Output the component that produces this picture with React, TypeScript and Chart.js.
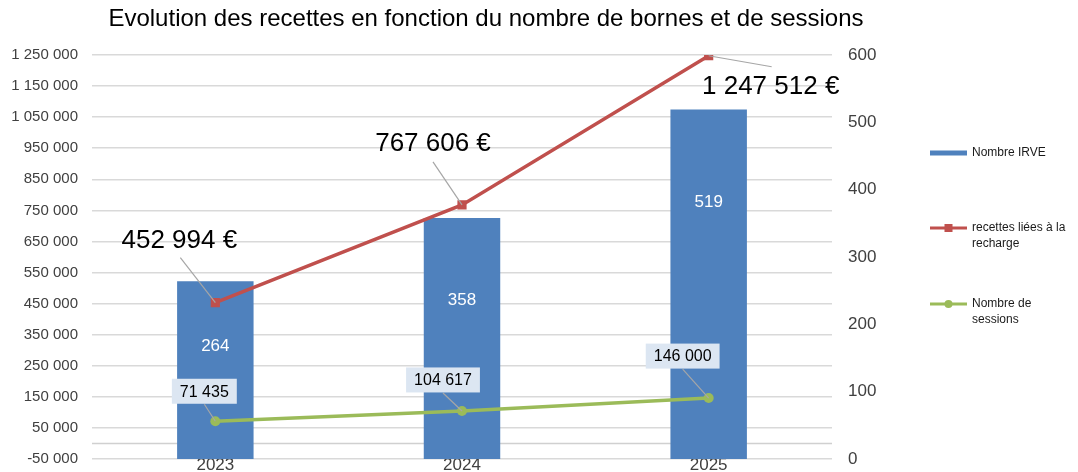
import React, { useEffect, useRef } from 'react';
import { Chart, registerables } from 'chart.js';

Chart.register(...registerables);

// ---- Data ----
const categories = ['2023', '2024', '2025'];
const nombreIRVE = [264, 358, 519];
const recettes = [452994, 767606, 1247512];
const sessions = [71435, 104617, 146000];

const leftMin = -50000;
const leftMax = 1250000;
const leftStep = 100000;
const rightMin = 0;
const rightMax = 600;
const rightStep = 100;

const title = 'Evolution des recettes en fonction du nombre de bornes et de sessions';
const legendLabels = [['Nombre IRVE'], ['recettes liées à la', 'recharge'], ['Nombre de', 'sessions']];

// ---- Styles ----
const BLUE = '#4f81bd';
const RED = '#c0504d';
const GREEN = '#9bbb59';
const FONT = '"Liberation Sans", Arial, sans-serif';

// label placements (offsets from data points, in px)
const barLabelOffsetFromTop = [65, 82, 93];
const recLabelOffset = [[-36, -62], [-29, -61], [62, 31]];
const recLeaderStart = [[-35, -45], [-29, -43], [63, 11]];
const sesLabelOffset = [[-11, -30], [-19, -31], [-26, -42]];

const fmt = (v: number) => Math.round(v).toString().replace(/\B(?=(\d{3})+(?!\d))/g, '\u00a0');

const customPlugin = {
  id: 'customDraw',
  beforeDatasetsDraw(chart: any) {
    const { ctx, chartArea, scales } = chart;
    const y0 = scales.y.getPixelForValue(0);
    ctx.save();
    ctx.strokeStyle = '#d0d0d0';
    ctx.lineWidth = 1.5;
    ctx.beginPath();
    ctx.moveTo(chartArea.left, y0);
    ctx.lineTo(chartArea.right, y0);
    ctx.stroke();
    ctx.restore();
  },
  afterDatasetsDraw(chart: any) {
    const { ctx } = chart;
    const barMeta = chart.getDatasetMeta(0);
    const recMeta = chart.getDatasetMeta(1);
    const sesMeta = chart.getDatasetMeta(2);
    ctx.save();
    // bar labels
    ctx.font = `17px ${FONT}`;
    ctx.fillStyle = '#ffffff';
    ctx.textAlign = 'center';
    ctx.textBaseline = 'middle';
    barMeta.data.forEach((el: any, i: number) => {
      ctx.fillText(String(nombreIRVE[i]), el.x, el.y + barLabelOffsetFromTop[i]);
    });
    // recettes labels
    recMeta.data.forEach((el: any, i: number) => {
      const [dx, dy] = recLabelOffset[i];
      const [lx, ly] = recLeaderStart[i];
      ctx.strokeStyle = '#a6a6a6';
      ctx.lineWidth = 1.2;
      ctx.beginPath();
      ctx.moveTo(el.x + lx, el.y + ly);
      ctx.lineTo(el.x, el.y);
      ctx.stroke();
      ctx.font = `26px ${FONT}`;
      ctx.fillStyle = '#000000';
      ctx.fillText(fmt(recettes[i]) + '\u00a0€', el.x + dx, el.y + dy);
    });
    // sessions labels
    sesMeta.data.forEach((el: any, i: number) => {
      const [dx, dy] = sesLabelOffset[i];
      const cx = el.x + dx;
      const cy = el.y + dy;
      ctx.strokeStyle = '#a6a6a6';
      ctx.lineWidth = 1.2;
      ctx.beginPath();
      ctx.moveTo(cx, cy + 13);
      ctx.lineTo(el.x, el.y);
      ctx.stroke();
      ctx.font = `16px ${FONT}`;
      const text = fmt(sessions[i]);
      const w = ctx.measureText(text).width + 16;
      ctx.fillStyle = '#dce6f2';
      ctx.fillRect(cx - w / 2, cy - 12.5, w, 25);
      ctx.fillStyle = '#000000';
      ctx.fillText(text, cx, cy + 1);
    });
    ctx.restore();
  },
  afterDraw(chart: any) {
    const { ctx } = chart;
    ctx.save();
    // title
    ctx.font = `24px ${FONT}`;
    ctx.fillStyle = '#000000';
    ctx.textAlign = 'center';
    ctx.textBaseline = 'middle';
    ctx.fillText(title, 486, 19);
    // legend
    const lx0 = 930;
    const lx1 = 967;
    const tx = 972;
    const rows = [153, 228, 304];
    const colors = [BLUE, RED, GREEN];
    ctx.font = `12px ${FONT}`;
    ctx.textAlign = 'left';
    rows.forEach((ry, i) => {
      ctx.strokeStyle = colors[i];
      ctx.lineWidth = i === 0 ? 5 : 3;
      ctx.beginPath();
      ctx.moveTo(lx0, ry);
      ctx.lineTo(lx1, ry);
      ctx.stroke();
      ctx.fillStyle = colors[i];
      if (i === 1) ctx.fillRect((lx0 + lx1) / 2 - 4, ry - 4, 8, 8);
      if (i === 2) {
        ctx.beginPath();
        ctx.arc((lx0 + lx1) / 2, ry, 4, 0, Math.PI * 2);
        ctx.fill();
      }
      ctx.fillStyle = '#1a1a1a';
      legendLabels[i].forEach((t, j) => ctx.fillText(t, tx, ry + j * 15.5));
    });
    ctx.restore();
  },
};

export default function App() {
  const canvasRef = useRef<HTMLCanvasElement>(null);

  useEffect(() => {
    document.body.style.margin = '0';
    const canvas = canvasRef.current;
    if (!canvas) return;
    const chart = new Chart(canvas, {
      type: 'bar',
      data: {
        labels: categories,
        datasets: [
          {
            type: 'bar',
            label: 'Nombre IRVE',
            data: nombreIRVE,
            backgroundColor: BLUE,
            yAxisID: 'y1',
            barPercentage: 0.31,
            categoryPercentage: 1,
            order: 3,
          } as any,
          {
            type: 'line',
            label: 'recettes liées à la recharge',
            data: recettes,
            borderColor: RED,
            backgroundColor: RED,
            borderWidth: 3.5,
            pointStyle: 'rect',
            pointRadius: 6.5,
            pointBorderWidth: 0,
            yAxisID: 'y',
            order: 1,
          },
          {
            type: 'line',
            label: 'Nombre de sessions',
            data: sessions,
            borderColor: GREEN,
            backgroundColor: GREEN,
            borderWidth: 3.5,
            pointStyle: 'circle',
            pointRadius: 5,
            pointBorderWidth: 0,
            yAxisID: 'y',
            order: 2,
          },
        ],
      },
      options: {
        responsive: true,
        maintainAspectRatio: false,
        animation: false,
        layout: { padding: { top: 55, right: 198, left: 0, bottom: 0 } },
        plugins: {
          legend: { display: false },
          tooltip: { enabled: false },
          title: { display: false },
        },
        scales: {
          x: {
            grid: { display: false, drawTicks: false },
            border: { display: false },
            ticks: { font: { family: FONT, size: 17 }, color: '#404040', padding: -4 },
            afterFit: (s: any) => { s.height = 13; s.paddingLeft = 0; s.paddingRight = 0; },
          },
          y: {
            position: 'left',
            min: leftMin,
            max: leftMax,
            ticks: {
              stepSize: leftStep,
              callback: (v: any) => fmt(Number(v)),
              font: { family: FONT, size: 15 },
              color: '#404040',
              padding: 14,
            },
            grid: { color: '#d9d9d9', lineWidth: 1.5, drawTicks: false },
            border: { display: false },
            afterFit: (s: any) => { s.width = 92; s.paddingTop = 0; s.paddingBottom = 0; },
          },
          y1: {
            position: 'right',
            min: rightMin,
            max: rightMax,
            ticks: {
              stepSize: rightStep,
              font: { family: FONT, size: 17 },
              color: '#404040',
              padding: 16,
            },
            grid: { display: false, drawTicks: false },
            border: { display: false },
            afterFit: (s: any) => { s.width = 48; s.paddingTop = 0; s.paddingBottom = 0; },
          },
        },
      },
      plugins: [customPlugin],
    });
    return () => chart.destroy();
  }, []);

  return (
    <div style={{ width: 1078, height: 472, position: 'relative' }}>
      <canvas ref={canvasRef} />
    </div>
  );
}
